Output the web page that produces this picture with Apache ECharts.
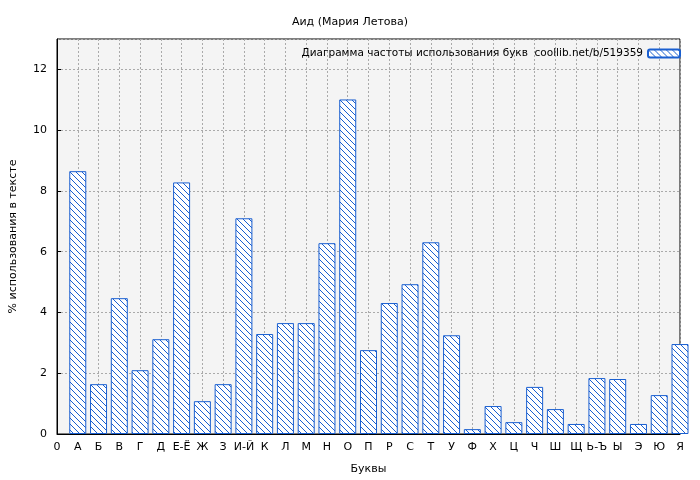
<!DOCTYPE html>
<html>
<head>
<meta charset="utf-8">
<script src="https://cdn.jsdelivr.net/npm/echarts@6/dist/echarts.min.js"></script>
<style>html,body{margin:0;padding:0;background:#fff}#c{width:700px;height:480px}</style>
</head>
<body>
<div id="c"></div>
<script>
var letters = ['0','А','Б','В','Г','Д','Е-Ё','Ж','З','И-Й','К','Л','М','Н','О','П','Р','С','Т','У','Ф','Х','Ц','Ч','Ш','Щ','Ь-Ъ','Ы','Э','Ю','Я'];
var percents = [null, 8.65, 1.64, 4.47, 2.10, 3.12, 8.28, 1.08, 1.64, 7.10, 3.29, 3.65, 3.65, 6.28, 11.01, 2.76, 4.31, 4.93, 6.31, 3.25, 0.16, 0.92, 0.39, 1.55, 0.82, 0.33, 1.84, 1.81, 0.33, 1.28, 2.96];

// штриховка
var cv = document.createElement('canvas');
cv.width = 6; cv.height = 6;
var g = cv.getContext('2d');
g.fillStyle = '#ffffff';
g.fillRect(0, 0, 6, 6);
g.strokeStyle = '#1a5fd0';
g.lineWidth = 1;
g.beginPath();
g.moveTo(-1, -1); g.lineTo(7, 7);
g.moveTo(-1, 5); g.lineTo(1, 7);
g.moveTo(5, -1); g.lineTo(7, 1);
g.stroke();

var barData = [];
for (var i = 0; i < percents.length; i++) {
    if (percents[i] != null) barData.push([i, percents[i]]);
}

var myChart = echarts.init(document.getElementById('c'));
var font = 'DejaVu Sans';
var legendName = 'Диаграмма частоты использования букв  coollib.net/b/519359';
var option = {
    animation: false,
    backgroundColor: '#ffffff',
    title: {
        text: 'Аид (Мария Летова)',
        left: 'center', top: 12,
        textStyle: {fontFamily: font, fontSize: 11, fontWeight: 'normal', color: '#000'}
    },
    legend: {
        right: 14, top: 43,
        align: 'right',
        itemWidth: 32, itemHeight: 8,
        textStyle: {fontFamily: font, fontSize: 10.5, color: '#000'},
        data: [legendName]
    },
    grid: {left: 55, right: 20, top: 39, bottom: 46, show: true, backgroundColor: '#f4f4f4', borderColor: '#000', borderWidth: 1},
    xAxis: {
        type: 'value', min: 0, max: 30, interval: 1,
        name: 'Буквы', nameLocation: 'middle', nameGap: 30,
        nameTextStyle: {fontFamily: font, fontSize: 11, color: '#000'},
        axisLine: {lineStyle: {color: '#000'}},
        axisTick: {inside: true, length: 4, lineStyle: {color: '#000'}},
        axisLabel: {fontFamily: font, fontSize: 11, color: '#000', margin: 8,
            formatter: function (v) { return letters[v] || ''; }},
        splitLine: {show: true, lineStyle: {color: '#aaa', type: [2, 2]}}
    },
    yAxis: {
        type: 'value', min: 0, max: 13, interval: 2,
        name: '% использования в тексте', nameLocation: 'middle', nameGap: 38,
        nameTextStyle: {fontFamily: font, fontSize: 11, color: '#000'},
        axisLine: {show: true, lineStyle: {color: '#000'}},
        axisTick: {show: true, inside: true, length: 4, lineStyle: {color: '#000'}},
        axisLabel: {fontFamily: font, fontSize: 11, color: '#000', margin: 10, showMaxLabel: false},
        splitLine: {show: true, lineStyle: {color: '#aaa', type: [2, 2]}}
    },
    series: [{
        name: legendName,
        type: 'bar',
        data: barData,
        barWidth: 17,
        clip: true,
        itemStyle: {color: {image: cv, repeat: 'repeat'}, borderColor: '#1a5fd0', borderWidth: 1}
    }]
};
myChart.setOption(option);
</script>
</body>
</html>
